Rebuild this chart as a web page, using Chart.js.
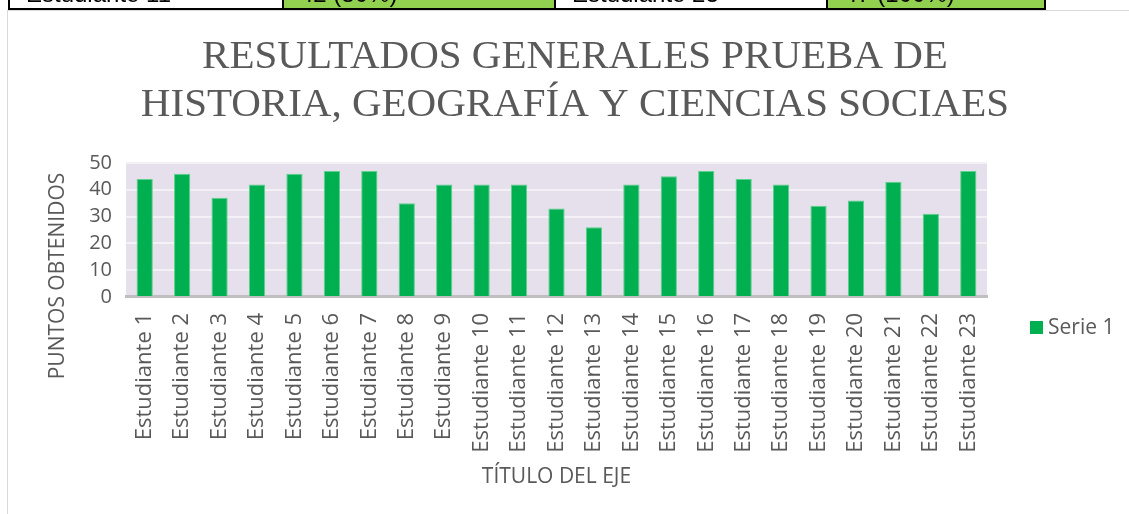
<!DOCTYPE html>
<html>
<head>
<meta charset="utf-8">
<script src="https://cdn.jsdelivr.net/npm/chart.js@4.4.1/dist/chart.umd.min.js"></script>
<style>
  html, body { margin: 0; padding: 0; background: #fff; overflow: hidden; }
  body { width: 1129px; height: 514px; position: relative; }
  #frame { position: absolute; left: 7px; top: 10px; width: 1140px; height: 520px; border: 1px solid #d9d9d9; box-sizing: border-box; }
  #wrap { position: absolute; left: 0; top: 0; width: 1150px; height: 514px; }
  table.top { position: absolute; left: 8px; top: -22px; border-collapse: collapse; font-family: "Liberation Sans", Arial, sans-serif; font-size: 24px; color: #000; }
  table.top td { border: 2px solid #000; height: 28px; padding: 0 0 0 16px; }
  table.top td.g { background: #92d050; }
</style>
</head>
<body>
<div id="frame"></div>
<div id="wrap"><canvas id="chart" width="1150" height="514"></canvas></div>
<table class="top">
  <tr>
    <td style="width:256px">Estudiante 11</td>
    <td class="g" style="width:254px">42 (80%)</td>
    <td style="width:254px">Estudiante 23</td>
    <td class="g" style="width:200px">47 (100%)</td>
  </tr>
</table>
<script>
const categories = [
  "Estudiante 1", "Estudiante 2", "Estudiante 3", "Estudiante 4", "Estudiante 5",
  "Estudiante 6", "Estudiante 7", "Estudiante 8", "Estudiante 9", "Estudiante 10",
  "Estudiante 11", "Estudiante 12", "Estudiante 13", "Estudiante 14", "Estudiante 15",
  "Estudiante 16", "Estudiante 17", "Estudiante 18", "Estudiante 19", "Estudiante 20",
  "Estudiante 21", "Estudiante 22", "Estudiante 23"
];
const serie1 = [44, 46, 37, 42, 46, 47, 47, 35, 42, 42, 42, 33, 26, 42, 45, 47, 44, 42, 34, 36, 43, 31, 47];
const yTicks = [0, 10, 20, 30, 40, 50];

const gray = "#595959";
const sans = "'Open Sans', sans-serif";

// plot background, y title and legend (Excel puts these off-center)
const extras = {
  id: "extras",
  beforeDraw(chart) {
    const { ctx, chartArea: a } = chart;
    ctx.save();
    ctx.fillStyle = "#e5e0ec";
    ctx.fillRect(a.left, a.top, a.right - a.left, a.bottom - a.top);
    ctx.restore();
  },
  afterDraw(chart) {
    const { ctx } = chart;
    ctx.save();
    ctx.fillStyle = gray;
    ctx.font = "21px " + sans;
    ctx.textAlign = "center";
    ctx.textBaseline = "middle";
    ctx.translate(58, 276);
    ctx.rotate(-Math.PI / 2);
    ctx.fillText("PUNTOS OBTENIDOS", 0, 0);
    ctx.restore();

    const ds = chart.data.datasets[0];
    ctx.save();
    ctx.fillStyle = ds.backgroundColor;
    ctx.fillRect(1030, 321, 13, 13);
    ctx.fillStyle = gray;
    ctx.font = "21px " + sans;
    ctx.textBaseline = "middle";
    ctx.fillText(ds.label, 1048, 328);
    ctx.restore();
  }
};

new Chart(document.getElementById("chart"), {
  type: "bar",
  data: {
    labels: categories,
    datasets: [{
      label: "Serie 1",
      data: serie1,
      backgroundColor: "#00b050",
      borderColor: "#5cd08c",
      borderWidth: 1,
      barPercentage: 0.7,
      categoryPercentage: 0.62
    }]
  },
  options: {
    responsive: false,
    animation: false,
    layout: { padding: { left: 0, right: 0, top: 0, bottom: 24 } },
    plugins: {
      legend: { display: false },
      tooltip: { enabled: false },
      title: {
        display: true,
        text: ["RESULTADOS GENERALES PRUEBA DE", "HISTORIA, GEOGRAFÍA Y CIENCIAS SOCIAES"],
        color: gray,
        font: { family: "'Liberation Serif', serif", size: 41, weight: "normal", lineHeight: 1.17 },
        padding: { top: 33, bottom: 34 }
      }
    },
    scales: {
      x: {
        grid: { display: false },
        border: { display: true, color: "#bfbfbf", width: 3 },
        ticks: { color: gray, font: { family: sans, size: 22 }, maxRotation: 90, minRotation: 90, padding: 8, autoSkip: false },
        title: { display: true, text: "TÍTULO DEL EJE", color: gray, font: { family: sans, size: 21 }, padding: { top: 4, bottom: 0 } }
      },
      y: {
        min: 0,
        max: 50,
        afterBuildTicks(scale) { scale.ticks = yTicks.map(v => ({ value: v })); },
        afterFit(scale) { scale.width = 126; },
        grid: { color: "#f3f1f6", lineWidth: 2, drawTicks: false },
        border: { display: false },
        ticks: { color: gray, font: { family: sans, size: 20 }, padding: 14, autoSkip: false }
      },
      // empty right-hand axis: keeps room for the legend
      yRight: {
        position: "right",
        min: 0,
        max: 50,
        afterFit(scale) { scale.width = 163; },
        grid: { display: false },
        border: { display: false },
        ticks: { display: false }
      }
    }
  },
  plugins: [extras]
});
</script>
</body>
</html>
